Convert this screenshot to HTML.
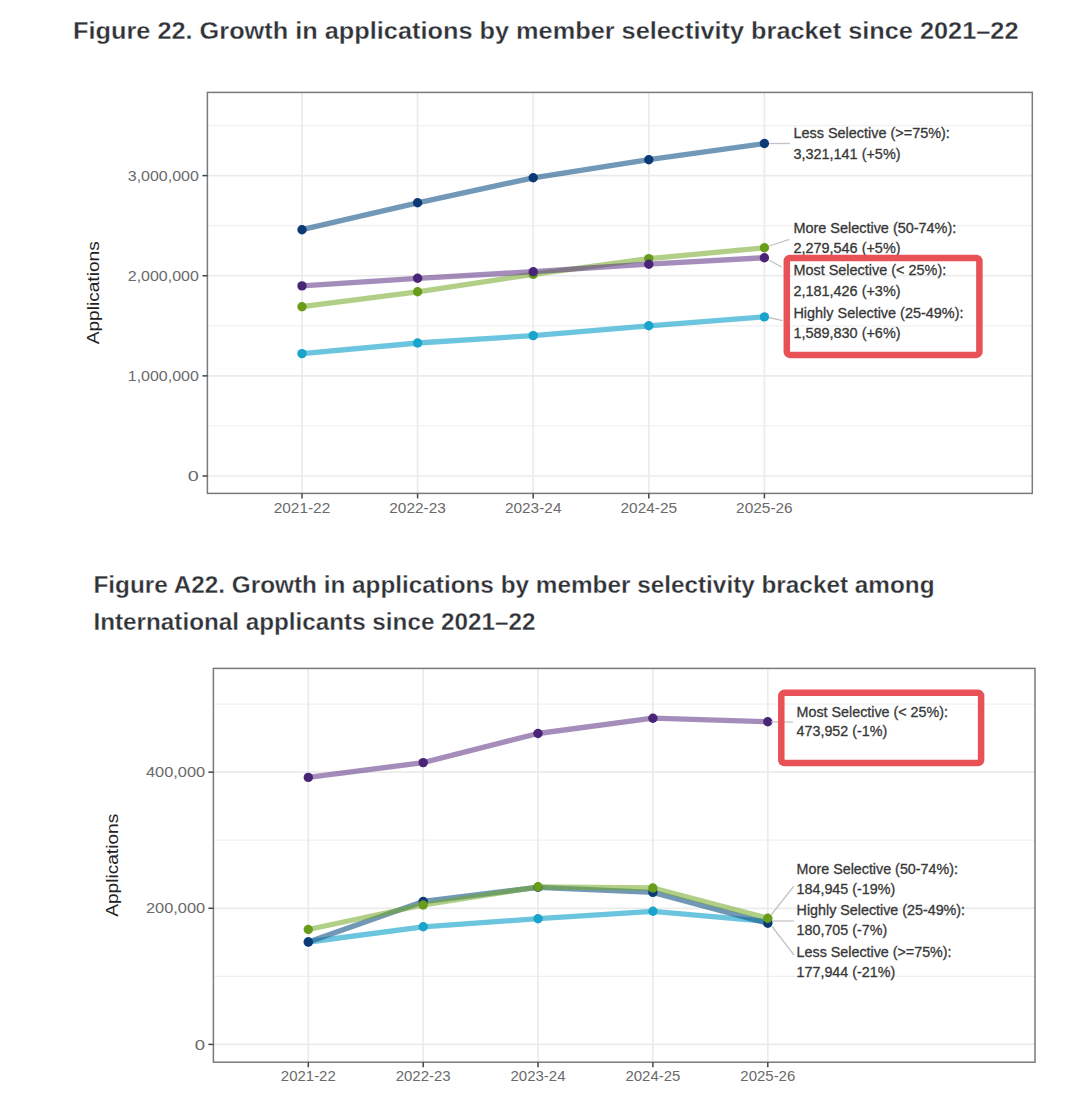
<!DOCTYPE html>
<html><head><meta charset="utf-8"><title>Figure 22</title>
<style>html,body{margin:0;padding:0;background:#fff;}svg{display:block;}text{font-family:"Liberation Sans", sans-serif;}</style>
</head><body>
<svg width="1080" height="1098" viewBox="0 0 1080 1098">
<rect width="1080" height="1098" fill="#fff"/>
<text x="73.0" y="38.5" font-size="24.4" fill="#2f3237" text-anchor="start" font-weight="bold" textLength="945.5" lengthAdjust="spacingAndGlyphs" stroke="#fff" stroke-width="0.3">Figure 22. Growth in applications by member selectivity bracket since 2021–22</text>
<line x1="207.4" y1="425.94" x2="1032.3" y2="425.94" stroke="#f0f0f0" stroke-width="1.2"/>
<line x1="207.4" y1="325.80" x2="1032.3" y2="325.80" stroke="#f0f0f0" stroke-width="1.2"/>
<line x1="207.4" y1="225.67" x2="1032.3" y2="225.67" stroke="#f0f0f0" stroke-width="1.2"/>
<line x1="207.4" y1="125.54" x2="1032.3" y2="125.54" stroke="#f0f0f0" stroke-width="1.2"/>
<line x1="207.4" y1="476.00" x2="1032.3" y2="476.00" stroke="#ebebeb" stroke-width="1.7"/>
<line x1="207.4" y1="375.87" x2="1032.3" y2="375.87" stroke="#ebebeb" stroke-width="1.7"/>
<line x1="207.4" y1="275.74" x2="1032.3" y2="275.74" stroke="#ebebeb" stroke-width="1.7"/>
<line x1="207.4" y1="175.61" x2="1032.3" y2="175.61" stroke="#ebebeb" stroke-width="1.7"/>
<line x1="302.0" y1="92.4" x2="302.0" y2="493.4" stroke="#ebebeb" stroke-width="1.7"/>
<line x1="417.6" y1="92.4" x2="417.6" y2="493.4" stroke="#ebebeb" stroke-width="1.7"/>
<line x1="533.2" y1="92.4" x2="533.2" y2="493.4" stroke="#ebebeb" stroke-width="1.7"/>
<line x1="648.8" y1="92.4" x2="648.8" y2="493.4" stroke="#ebebeb" stroke-width="1.7"/>
<line x1="764.4" y1="92.4" x2="764.4" y2="493.4" stroke="#ebebeb" stroke-width="1.7"/>
<rect x="207.4" y="92.4" width="824.9" height="401.0" fill="none" stroke="#7a7a7a" stroke-width="1.5"/>
<line x1="202.4" y1="476.00" x2="207.4" y2="476.00" stroke="#444" stroke-width="1.5"/>
<text x="0" y="0" font-size="15.5" fill="#6a6a6a" text-anchor="end" transform="translate(198.80,481.20) scale(1.28,1)">0</text>
<line x1="202.4" y1="375.87" x2="207.4" y2="375.87" stroke="#444" stroke-width="1.5"/>
<text x="198.8" y="381.07" font-size="15.5" fill="#6a6a6a" text-anchor="end" font-weight="normal" textLength="71.0" lengthAdjust="spacingAndGlyphs">1,000,000</text>
<line x1="202.4" y1="275.74" x2="207.4" y2="275.74" stroke="#444" stroke-width="1.5"/>
<text x="198.8" y="280.94" font-size="15.5" fill="#6a6a6a" text-anchor="end" font-weight="normal" textLength="71.0" lengthAdjust="spacingAndGlyphs">2,000,000</text>
<line x1="202.4" y1="175.61" x2="207.4" y2="175.61" stroke="#444" stroke-width="1.5"/>
<text x="198.8" y="180.81" font-size="15.5" fill="#6a6a6a" text-anchor="end" font-weight="normal" textLength="71.0" lengthAdjust="spacingAndGlyphs">3,000,000</text>
<line x1="302.0" y1="493.4" x2="302.0" y2="498.4" stroke="#444" stroke-width="1.5"/>
<text x="302.0" y="512.8" font-size="15" fill="#6a6a6a" text-anchor="middle" font-weight="normal" textLength="56.6" lengthAdjust="spacingAndGlyphs">2021-22</text>
<line x1="417.6" y1="493.4" x2="417.6" y2="498.4" stroke="#444" stroke-width="1.5"/>
<text x="417.6" y="512.8" font-size="15" fill="#6a6a6a" text-anchor="middle" font-weight="normal" textLength="56.6" lengthAdjust="spacingAndGlyphs">2022-23</text>
<line x1="533.2" y1="493.4" x2="533.2" y2="498.4" stroke="#444" stroke-width="1.5"/>
<text x="533.2" y="512.8" font-size="15" fill="#6a6a6a" text-anchor="middle" font-weight="normal" textLength="56.6" lengthAdjust="spacingAndGlyphs">2023-24</text>
<line x1="648.8" y1="493.4" x2="648.8" y2="498.4" stroke="#444" stroke-width="1.5"/>
<text x="648.8" y="512.8" font-size="15" fill="#6a6a6a" text-anchor="middle" font-weight="normal" textLength="56.6" lengthAdjust="spacingAndGlyphs">2024-25</text>
<line x1="764.4" y1="493.4" x2="764.4" y2="498.4" stroke="#444" stroke-width="1.5"/>
<text x="764.4" y="512.8" font-size="15" fill="#6a6a6a" text-anchor="middle" font-weight="normal" textLength="56.6" lengthAdjust="spacingAndGlyphs">2025-26</text>
<text x="0" y="0" font-size="16" fill="#222" text-anchor="middle" transform="translate(98.5,292.8) rotate(-90)" textLength="103" lengthAdjust="spacingAndGlyphs">Applications</text>
<polyline points="302.00,353.60 417.60,343.00 533.20,335.60 648.80,325.80 764.40,316.90" fill="none" stroke="#0a9ec8" stroke-opacity="0.6" stroke-width="5.3" stroke-linejoin="round" stroke-linecap="butt"/>
<polyline points="302.00,229.70 417.60,202.80 533.20,177.80 648.80,159.70 764.40,143.50" fill="none" stroke="#145389" stroke-opacity="0.6" stroke-width="5.3" stroke-linejoin="round" stroke-linecap="butt"/>
<polyline points="302.00,306.70 417.60,291.80 533.20,274.40 648.80,258.60 764.40,247.80" fill="none" stroke="#71a825" stroke-opacity="0.55" stroke-width="5.3" stroke-linejoin="round" stroke-linecap="butt"/>
<polyline points="302.00,285.90 417.60,278.30 533.20,271.70 648.80,264.20 764.40,257.70" fill="none" stroke="#5a3083" stroke-opacity="0.55" stroke-width="5.3" stroke-linejoin="round" stroke-linecap="butt"/>
<circle cx="302.00" cy="353.60" r="4.7" fill="#18a4cb"/>
<circle cx="417.60" cy="343.00" r="4.7" fill="#18a4cb"/>
<circle cx="533.20" cy="335.60" r="4.7" fill="#18a4cb"/>
<circle cx="648.80" cy="325.80" r="4.7" fill="#18a4cb"/>
<circle cx="764.40" cy="316.90" r="4.7" fill="#18a4cb"/>
<circle cx="302.00" cy="229.70" r="4.7" fill="#0c3a75"/>
<circle cx="417.60" cy="202.80" r="4.7" fill="#0c3a75"/>
<circle cx="533.20" cy="177.80" r="4.7" fill="#0c3a75"/>
<circle cx="648.80" cy="159.70" r="4.7" fill="#0c3a75"/>
<circle cx="764.40" cy="143.50" r="4.7" fill="#0c3a75"/>
<circle cx="302.00" cy="306.70" r="4.7" fill="#6a9c1c"/>
<circle cx="417.60" cy="291.80" r="4.7" fill="#6a9c1c"/>
<circle cx="533.20" cy="274.40" r="4.7" fill="#6a9c1c"/>
<circle cx="648.80" cy="258.60" r="4.7" fill="#6a9c1c"/>
<circle cx="764.40" cy="247.80" r="4.7" fill="#6a9c1c"/>
<circle cx="302.00" cy="285.90" r="4.7" fill="#4a2577"/>
<circle cx="417.60" cy="278.30" r="4.7" fill="#4a2577"/>
<circle cx="533.20" cy="271.70" r="4.7" fill="#4a2577"/>
<circle cx="648.80" cy="264.20" r="4.7" fill="#4a2577"/>
<circle cx="764.40" cy="257.70" r="4.7" fill="#4a2577"/>
<line x1="769" y1="143.5" x2="790" y2="143.5" stroke="#c4c4c4" stroke-width="1.3"/>
<line x1="769" y1="246" x2="789.5" y2="239.3" stroke="#c4c4c4" stroke-width="1.3"/>
<line x1="768.5" y1="260" x2="781.5" y2="266.8" stroke="#c4c4c4" stroke-width="1.3"/>
<line x1="769" y1="317.5" x2="782.5" y2="320.6" stroke="#c4c4c4" stroke-width="1.3"/>
<text x="793.4" y="138.2" font-size="14.45" fill="#383838" text-anchor="start" font-weight="normal" stroke="#383838" stroke-width="0.3">Less Selective (&gt;=75%):</text>
<text x="793.4" y="158.8" font-size="14.45" fill="#383838" text-anchor="start" font-weight="normal" stroke="#383838" stroke-width="0.3">3,321,141 (+5%)</text>
<text x="793.4" y="232.6" font-size="14.45" fill="#383838" text-anchor="start" font-weight="normal" stroke="#383838" stroke-width="0.3">More Selective (50-74%):</text>
<text x="793.4" y="253.0" font-size="14.45" fill="#383838" text-anchor="start" font-weight="normal" stroke="#383838" stroke-width="0.3">2,279,546 (+5%)</text>
<text x="793.4" y="275.3" font-size="14.45" fill="#383838" text-anchor="start" font-weight="normal" stroke="#383838" stroke-width="0.3">Most Selective (&lt; 25%):</text>
<text x="793.4" y="295.5" font-size="14.45" fill="#383838" text-anchor="start" font-weight="normal" stroke="#383838" stroke-width="0.3">2,181,426 (+3%)</text>
<text x="793.4" y="317.8" font-size="14.45" fill="#383838" text-anchor="start" font-weight="normal" stroke="#383838" stroke-width="0.3">Highly Selective (25-49%):</text>
<text x="793.4" y="338.2" font-size="14.45" fill="#383838" text-anchor="start" font-weight="normal" stroke="#383838" stroke-width="0.3">1,589,830 (+6%)</text>
<rect x="786.8" y="257.9" width="192.6" height="97.0" rx="3" fill="none" stroke="#e85257" stroke-width="6.5"/>
<text x="93.5" y="593.1" font-size="24.4" fill="#2f3237" text-anchor="start" font-weight="bold" textLength="841.0" lengthAdjust="spacingAndGlyphs" stroke="#fff" stroke-width="0.3">Figure A22. Growth in applications by member selectivity bracket among</text>
<text x="93.5" y="629.7" font-size="24.4" fill="#2f3237" text-anchor="start" font-weight="bold" textLength="442.0" lengthAdjust="spacingAndGlyphs" stroke="#fff" stroke-width="0.3">International applicants since 2021–22</text>
<line x1="213.4" y1="976.34" x2="1035.0" y2="976.34" stroke="#f0f0f0" stroke-width="1.2"/>
<line x1="213.4" y1="840.22" x2="1035.0" y2="840.22" stroke="#f0f0f0" stroke-width="1.2"/>
<line x1="213.4" y1="704.10" x2="1035.0" y2="704.10" stroke="#f0f0f0" stroke-width="1.2"/>
<line x1="213.4" y1="1044.40" x2="1035.0" y2="1044.40" stroke="#ebebeb" stroke-width="1.7"/>
<line x1="213.4" y1="908.28" x2="1035.0" y2="908.28" stroke="#ebebeb" stroke-width="1.7"/>
<line x1="213.4" y1="772.16" x2="1035.0" y2="772.16" stroke="#ebebeb" stroke-width="1.7"/>
<line x1="308.3" y1="668.4" x2="308.3" y2="1062.2" stroke="#ebebeb" stroke-width="1.7"/>
<line x1="423.2" y1="668.4" x2="423.2" y2="1062.2" stroke="#ebebeb" stroke-width="1.7"/>
<line x1="538.0" y1="668.4" x2="538.0" y2="1062.2" stroke="#ebebeb" stroke-width="1.7"/>
<line x1="652.9" y1="668.4" x2="652.9" y2="1062.2" stroke="#ebebeb" stroke-width="1.7"/>
<line x1="767.8" y1="668.4" x2="767.8" y2="1062.2" stroke="#ebebeb" stroke-width="1.7"/>
<rect x="213.4" y="668.4" width="821.6" height="393.80000000000007" fill="none" stroke="#7a7a7a" stroke-width="1.5"/>
<line x1="208.4" y1="1044.40" x2="213.4" y2="1044.40" stroke="#444" stroke-width="1.5"/>
<text x="0" y="0" font-size="14.5" fill="#6a6a6a" text-anchor="end" transform="translate(205.20,1049.60) scale(1.28,1)">0</text>
<line x1="208.4" y1="908.28" x2="213.4" y2="908.28" stroke="#444" stroke-width="1.5"/>
<text x="205.20000000000002" y="913.48" font-size="14.5" fill="#6a6a6a" text-anchor="end" font-weight="normal" textLength="59.2" lengthAdjust="spacingAndGlyphs">200,000</text>
<line x1="208.4" y1="772.16" x2="213.4" y2="772.16" stroke="#444" stroke-width="1.5"/>
<text x="205.20000000000002" y="777.36" font-size="14.5" fill="#6a6a6a" text-anchor="end" font-weight="normal" textLength="59.2" lengthAdjust="spacingAndGlyphs">400,000</text>
<line x1="308.3" y1="1062.2" x2="308.3" y2="1067.2" stroke="#444" stroke-width="1.5"/>
<text x="308.3" y="1080.6" font-size="14.6" fill="#6a6a6a" text-anchor="middle" font-weight="normal" textLength="55.0" lengthAdjust="spacingAndGlyphs">2021-22</text>
<line x1="423.2" y1="1062.2" x2="423.2" y2="1067.2" stroke="#444" stroke-width="1.5"/>
<text x="423.2" y="1080.6" font-size="14.6" fill="#6a6a6a" text-anchor="middle" font-weight="normal" textLength="55.0" lengthAdjust="spacingAndGlyphs">2022-23</text>
<line x1="538.0" y1="1062.2" x2="538.0" y2="1067.2" stroke="#444" stroke-width="1.5"/>
<text x="538.0" y="1080.6" font-size="14.6" fill="#6a6a6a" text-anchor="middle" font-weight="normal" textLength="55.0" lengthAdjust="spacingAndGlyphs">2023-24</text>
<line x1="652.9" y1="1062.2" x2="652.9" y2="1067.2" stroke="#444" stroke-width="1.5"/>
<text x="652.9" y="1080.6" font-size="14.6" fill="#6a6a6a" text-anchor="middle" font-weight="normal" textLength="55.0" lengthAdjust="spacingAndGlyphs">2024-25</text>
<line x1="767.8" y1="1062.2" x2="767.8" y2="1067.2" stroke="#444" stroke-width="1.5"/>
<text x="767.8" y="1080.6" font-size="14.6" fill="#6a6a6a" text-anchor="middle" font-weight="normal" textLength="55.0" lengthAdjust="spacingAndGlyphs">2025-26</text>
<text x="0" y="0" font-size="16" fill="#222" text-anchor="middle" transform="translate(117.8,865.3) rotate(-90)" textLength="103" lengthAdjust="spacingAndGlyphs">Applications</text>
<polyline points="308.30,942.00 423.20,926.80 538.00,918.70 652.90,911.30 767.80,921.50" fill="none" stroke="#0a9ec8" stroke-opacity="0.6" stroke-width="5.3" stroke-linejoin="round" stroke-linecap="butt"/>
<polyline points="308.30,942.00 423.20,901.50 538.00,887.30 652.90,892.40 767.80,923.30" fill="none" stroke="#145389" stroke-opacity="0.6" stroke-width="5.3" stroke-linejoin="round" stroke-linecap="butt"/>
<polyline points="308.30,929.50 423.20,905.00 538.00,886.80 652.90,888.00 767.80,918.30" fill="none" stroke="#71a825" stroke-opacity="0.55" stroke-width="5.3" stroke-linejoin="round" stroke-linecap="butt"/>
<polyline points="308.30,777.40 423.20,762.60 538.00,733.50 652.90,718.20 767.80,721.80" fill="none" stroke="#5a3083" stroke-opacity="0.55" stroke-width="5.3" stroke-linejoin="round" stroke-linecap="butt"/>
<circle cx="308.30" cy="942.00" r="4.7" fill="#18a4cb"/>
<circle cx="423.20" cy="926.80" r="4.7" fill="#18a4cb"/>
<circle cx="538.00" cy="918.70" r="4.7" fill="#18a4cb"/>
<circle cx="652.90" cy="911.30" r="4.7" fill="#18a4cb"/>
<circle cx="767.80" cy="921.50" r="4.7" fill="#18a4cb"/>
<circle cx="308.30" cy="942.00" r="4.7" fill="#0c3a75"/>
<circle cx="423.20" cy="901.50" r="4.7" fill="#0c3a75"/>
<circle cx="538.00" cy="887.30" r="4.7" fill="#0c3a75"/>
<circle cx="652.90" cy="892.40" r="4.7" fill="#0c3a75"/>
<circle cx="767.80" cy="923.30" r="4.7" fill="#0c3a75"/>
<circle cx="308.30" cy="929.50" r="4.7" fill="#6a9c1c"/>
<circle cx="423.20" cy="905.00" r="4.7" fill="#6a9c1c"/>
<circle cx="538.00" cy="886.80" r="4.7" fill="#6a9c1c"/>
<circle cx="652.90" cy="888.00" r="4.7" fill="#6a9c1c"/>
<circle cx="767.80" cy="918.30" r="4.7" fill="#6a9c1c"/>
<circle cx="308.30" cy="777.40" r="4.7" fill="#4a2577"/>
<circle cx="423.20" cy="762.60" r="4.7" fill="#4a2577"/>
<circle cx="538.00" cy="733.50" r="4.7" fill="#4a2577"/>
<circle cx="652.90" cy="718.20" r="4.7" fill="#4a2577"/>
<circle cx="767.80" cy="721.80" r="4.7" fill="#4a2577"/>
<line x1="771" y1="722" x2="793" y2="722" stroke="#c4c4c4" stroke-width="1.3"/>
<line x1="771.5" y1="914.5" x2="793.5" y2="886.5" stroke="#c4c4c4" stroke-width="1.3"/>
<line x1="772" y1="921" x2="794" y2="921" stroke="#c4c4c4" stroke-width="1.3"/>
<line x1="772" y1="926.5" x2="794" y2="955" stroke="#c4c4c4" stroke-width="1.3"/>
<text x="796.6" y="716.7" font-size="14.3" fill="#383838" text-anchor="start" font-weight="normal" stroke="#383838" stroke-width="0.3">Most Selective (&lt; 25%):</text>
<text x="796.6" y="735.9" font-size="14.3" fill="#383838" text-anchor="start" font-weight="normal" stroke="#383838" stroke-width="0.3">473,952 (-1%)</text>
<text x="796.6" y="873.5" font-size="14.3" fill="#383838" text-anchor="start" font-weight="normal" stroke="#383838" stroke-width="0.3">More Selective (50-74%):</text>
<text x="796.6" y="893.7" font-size="14.3" fill="#383838" text-anchor="start" font-weight="normal" stroke="#383838" stroke-width="0.3">184,945 (-19%)</text>
<text x="796.6" y="914.9" font-size="14.3" fill="#383838" text-anchor="start" font-weight="normal" stroke="#383838" stroke-width="0.3">Highly Selective (25-49%):</text>
<text x="796.6" y="934.7" font-size="14.3" fill="#383838" text-anchor="start" font-weight="normal" stroke="#383838" stroke-width="0.3">180,705 (-7%)</text>
<text x="796.6" y="956.7" font-size="14.3" fill="#383838" text-anchor="start" font-weight="normal" stroke="#383838" stroke-width="0.3">Less Selective (&gt;=75%):</text>
<text x="796.6" y="976.7" font-size="14.3" fill="#383838" text-anchor="start" font-weight="normal" stroke="#383838" stroke-width="0.3">177,944 (-21%)</text>
<rect x="781.3" y="692.8" width="199.8" height="70.3" rx="3" fill="none" stroke="#e85257" stroke-width="6.5"/>
</svg>
</body></html>
